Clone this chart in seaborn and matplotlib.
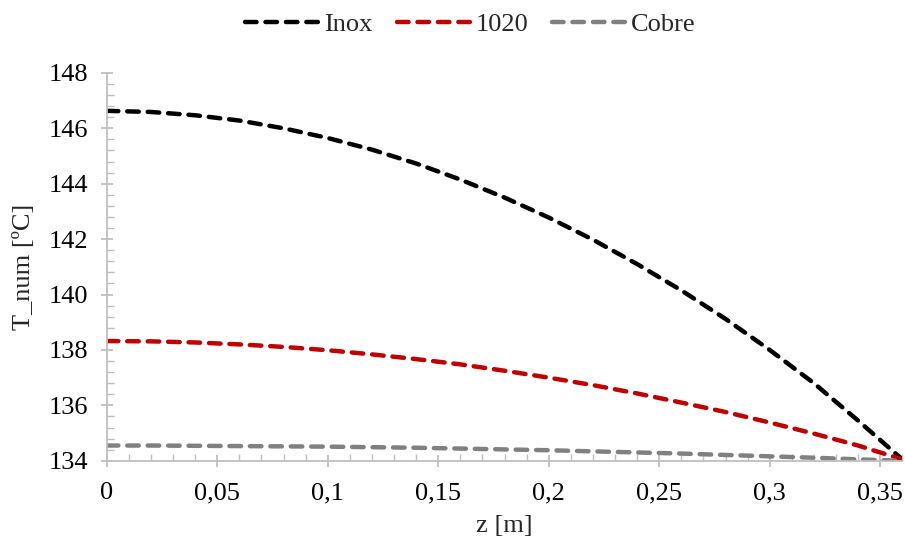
import matplotlib
matplotlib.use("Agg")
import matplotlib.pyplot as plt
from matplotlib.ticker import FuncFormatter, MultipleLocator
import pandas as pd
import seaborn as sns

z = [0.00, 0.02, 0.04, 0.06, 0.08, 0.10, 0.12, 0.14, 0.16, 0.18,
     0.20, 0.22, 0.24, 0.26, 0.28, 0.30, 0.32, 0.34, 0.36]

inox = [146.63, 146.59, 146.47, 146.28, 146.00, 145.65, 145.23, 144.73, 144.15, 143.50,
        142.78, 141.98, 141.10, 140.15, 139.12, 138.00, 136.80, 135.45, 134.05]
aco_1020 = [138.32, 138.31, 138.27, 138.20, 138.11, 137.99, 137.84, 137.67, 137.48, 137.25,
            137.00, 136.73, 136.43, 136.10, 135.76, 135.38, 134.98, 134.55, 134.05]
cobre = [134.55, 134.55, 134.54, 134.53, 134.52, 134.51, 134.49, 134.47, 134.44, 134.41,
         134.38, 134.34, 134.30, 134.26, 134.21, 134.16, 134.11, 134.05, 134.00]

series = {"Inox": inox, "1020": aco_1020, "Cobre": cobre}
colors = {"Inox": "#000000", "1020": "#C00000", "Cobre": "#808080"}

sns.set_style("white")
plt.rcParams["font.family"] = ["Liberation Serif", "DejaVu Serif"]
plt.rcParams["font.size"] = 19

fig = plt.figure(figsize=(9.05, 5.44), dpi=100)
ax = fig.add_axes([0.118, 0.153, 0.879, 0.713])

for name, vals in series.items():
    df = pd.DataFrame({"z": z, "T": vals})
    sns.lineplot(data=df, x="z", y="T", ax=ax, color=colors[name], label=name,
                 linewidth=3.2, dashes=False, linestyle=(0, (2.6, 2.0)),
                 dash_capstyle="round")

ax.set_xlim(0, 0.36)
ax.set_ylim(134, 148)
ax.xaxis.set_major_locator(MultipleLocator(0.05))
ax.xaxis.set_minor_locator(MultipleLocator(0.01))
ax.yaxis.set_major_locator(MultipleLocator(2))
ax.yaxis.set_minor_locator(MultipleLocator(0.4))
ax.xaxis.set_major_formatter(FuncFormatter(lambda v, p: f"{v:g}".replace(".", ",")))
ax.yaxis.set_major_formatter(FuncFormatter(lambda v, p: f"{v:g}"))

grey = "#BFBFBF"
for side in ["top", "right"]:
    ax.spines[side].set_visible(False)
for side in ["left", "bottom"]:
    ax.spines[side].set_color(grey)
    ax.spines[side].set_linewidth(1.3)
ax.tick_params(which="major", direction="inout", length=9, width=1.3, color=grey,
               labelsize=19, labelcolor="black")
ax.tick_params(which="minor", direction="in", length=5, width=1.0, color=grey)
ax.tick_params(axis="x", which="both", bottom=True)
ax.tick_params(axis="y", which="both", left=True)
ax.tick_params(axis="x", pad=11)
ax.tick_params(axis="y", pad=9)

ax.set_xlabel("z [m]", fontsize=19, labelpad=8)
ax.set_ylabel("T_num [ºC]", fontsize=19, labelpad=10)

ax.legend(loc="upper center", bbox_to_anchor=(0.52, 1.02), bbox_transform=fig.transFigure,
          ncol=3, frameon=False, fontsize=19, handlelength=2.9, handletextpad=0.1,
          columnspacing=0.9)

fig.savefig("out.png", dpi=100)
